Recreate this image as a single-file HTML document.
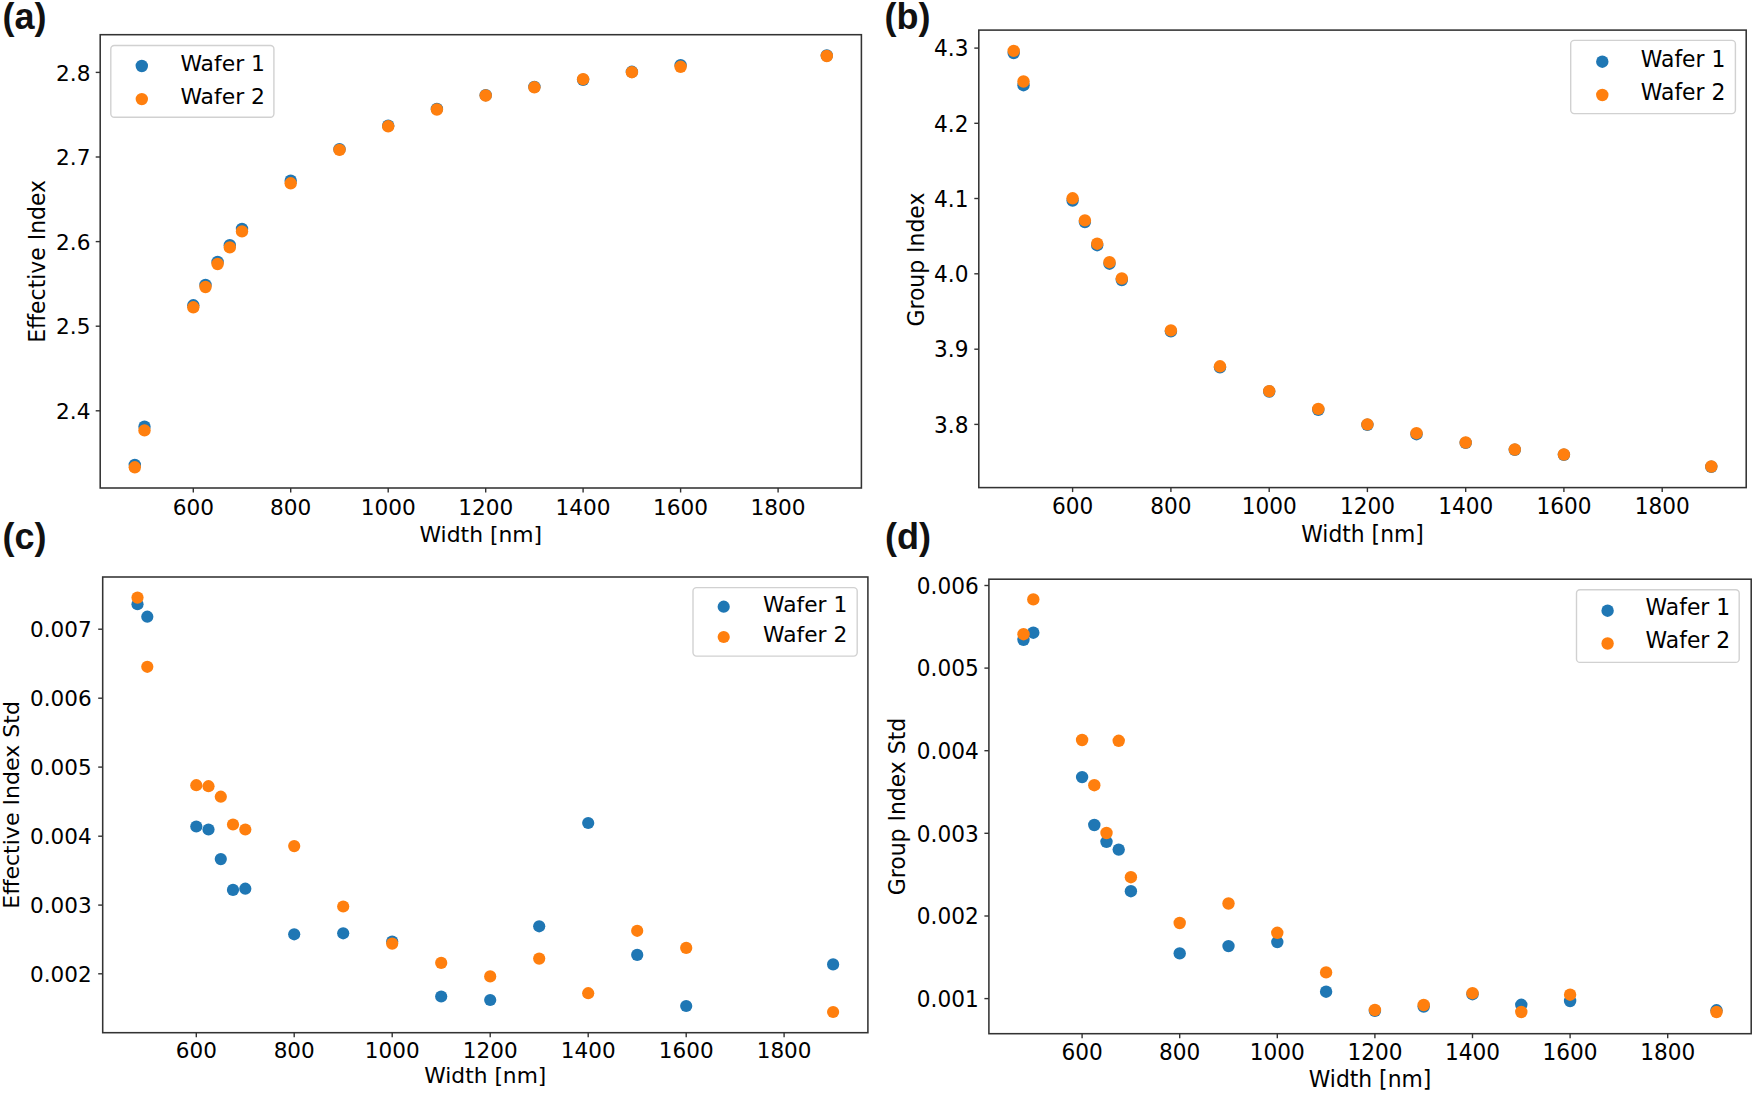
<!DOCTYPE html>
<html lang="en">
<head>
<meta charset="utf-8">
<title>Effective and group index versus waveguide width</title>
<style>
html,body{margin:0;padding:0;background:#fff;}
body{width:1755px;height:1093px;overflow:hidden;}
svg{display:block;}
text{font-family:"DejaVu Sans","Liberation Sans",sans-serif;font-size:22.2px;fill:#000;}
.t{font-size:22.2px;}
.pl{font-family:"Liberation Sans",sans-serif;font-weight:bold;font-size:36px;fill:#111;}
.sp{fill:none;stroke:#333;stroke-width:1.55;}
.tk{stroke:#333;stroke-width:1.4;}
.lg{fill:#fff;fill-opacity:.8;stroke:#ccc;stroke-opacity:.9;stroke-width:1.4;}
.b{fill:#1f77b4;}
.o{fill:#ff7f0e;}
</style>
</head>
<body>
<svg width="1755" height="1093" viewBox="0 0 1755 1093">
<rect width="1755" height="1093" fill="#fff"/>
<g id="panel-a">
<g class="b"><circle cx="134.8" cy="464.9" r="6.2"/><circle cx="144.5" cy="426.7" r="6.2"/><circle cx="193.3" cy="305.3" r="6.2"/><circle cx="205.5" cy="285" r="6.2"/><circle cx="217.6" cy="261.9" r="6.2"/><circle cx="229.8" cy="245.2" r="6.2"/><circle cx="242" cy="229" r="6.2"/><circle cx="290.7" cy="180.7" r="6.2"/><circle cx="339.5" cy="149.2" r="6.2"/><circle cx="388.2" cy="125.6" r="6.2"/><circle cx="436.9" cy="108.9" r="6.2"/><circle cx="485.7" cy="95.2" r="6.2"/><circle cx="534.4" cy="86.9" r="6.2"/><circle cx="583.1" cy="79.8" r="6.2"/><circle cx="631.9" cy="71.8" r="6.2"/><circle cx="680.6" cy="65.1" r="6.2"/><circle cx="826.8" cy="55.5" r="6.2"/></g>
<g class="o"><circle cx="134.8" cy="467.3" r="6.2"/><circle cx="144.5" cy="430.4" r="6.2"/><circle cx="193.3" cy="307.3" r="6.2"/><circle cx="205.5" cy="287" r="6.2"/><circle cx="217.6" cy="264" r="6.2"/><circle cx="229.8" cy="247.4" r="6.2"/><circle cx="242" cy="231.4" r="6.2"/><circle cx="290.7" cy="183.3" r="6.2"/><circle cx="339.5" cy="149.9" r="6.2"/><circle cx="388.2" cy="126.3" r="6.2"/><circle cx="436.9" cy="109.5" r="6.2"/><circle cx="485.7" cy="95.5" r="6.2"/><circle cx="534.4" cy="87.3" r="6.2"/><circle cx="583.1" cy="79.2" r="6.2"/><circle cx="631.9" cy="72.2" r="6.2"/><circle cx="680.6" cy="66.8" r="6.2"/><circle cx="826.8" cy="56" r="6.2"/></g>
<rect class="sp" x="100.2" y="34.7" width="761.2" height="453.3"/>
<line class="tk" x1="193.3" y1="488" x2="193.3" y2="492.5"/><text transform="translate(193.3 514.9) scale(0.975 0.985)" text-anchor="middle" class="t">600</text>
<line class="tk" x1="290.7" y1="488" x2="290.7" y2="492.5"/><text transform="translate(290.7 514.9) scale(0.975 0.985)" text-anchor="middle" class="t">800</text>
<line class="tk" x1="388.2" y1="488" x2="388.2" y2="492.5"/><text transform="translate(388.2 514.9) scale(0.975 0.985)" text-anchor="middle" class="t">1000</text>
<line class="tk" x1="485.7" y1="488" x2="485.7" y2="492.5"/><text transform="translate(485.7 514.9) scale(0.975 0.985)" text-anchor="middle" class="t">1200</text>
<line class="tk" x1="583.1" y1="488" x2="583.1" y2="492.5"/><text transform="translate(583.1 514.9) scale(0.975 0.985)" text-anchor="middle" class="t">1400</text>
<line class="tk" x1="680.6" y1="488" x2="680.6" y2="492.5"/><text transform="translate(680.6 514.9) scale(0.975 0.985)" text-anchor="middle" class="t">1600</text>
<line class="tk" x1="778.1" y1="488" x2="778.1" y2="492.5"/><text transform="translate(778.1 514.9) scale(0.975 0.985)" text-anchor="middle" class="t">1800</text>
<line class="tk" x1="95.7" y1="72.4" x2="100.2" y2="72.4"/><text transform="translate(90.4 80.6) scale(0.975 0.985)" text-anchor="end" class="t">2.8</text>
<line class="tk" x1="95.7" y1="157" x2="100.2" y2="157"/><text transform="translate(90.4 165.2) scale(0.975 0.985)" text-anchor="end" class="t">2.7</text>
<line class="tk" x1="95.7" y1="241.6" x2="100.2" y2="241.6"/><text transform="translate(90.4 249.8) scale(0.975 0.985)" text-anchor="end" class="t">2.6</text>
<line class="tk" x1="95.7" y1="326.2" x2="100.2" y2="326.2"/><text transform="translate(90.4 334.4) scale(0.975 0.985)" text-anchor="end" class="t">2.5</text>
<line class="tk" x1="95.7" y1="410.8" x2="100.2" y2="410.8"/><text transform="translate(90.4 419) scale(0.975 0.985)" text-anchor="end" class="t">2.4</text>
<text transform="translate(480.8 542.2) scale(0.985 0.985)" text-anchor="middle">Width [nm]</text>
<text transform="translate(44.9 261.4) rotate(-90) scale(0.988 1)" text-anchor="middle">Effective Index</text>
<rect class="lg" x="110.8" y="45.5" width="163.1" height="71.7" rx="3.5"/><circle class="b" cx="141.8" cy="66" r="6.2"/><circle class="o" cx="141.8" cy="99.1" r="6.2"/><text transform="translate(180.4 70.9) scale(0.985 0.985)">Wafer 1</text><text transform="translate(180.4 104.1) scale(0.985 0.985)">Wafer 2</text>
</g>
<g id="panel-b">
<g class="b"><circle cx="1013.7" cy="53.1" r="6.2"/><circle cx="1023.5" cy="85.2" r="6.2"/><circle cx="1072.6" cy="200.5" r="6.2"/><circle cx="1084.9" cy="222.1" r="6.2"/><circle cx="1097.2" cy="245.2" r="6.2"/><circle cx="1109.5" cy="263.7" r="6.2"/><circle cx="1121.8" cy="280" r="6.2"/><circle cx="1170.9" cy="331.4" r="6.2"/><circle cx="1220" cy="367.3" r="6.2"/><circle cx="1269.2" cy="391.5" r="6.2"/><circle cx="1318.3" cy="409.9" r="6.2"/><circle cx="1367.4" cy="424.8" r="6.2"/><circle cx="1416.5" cy="434.2" r="6.2"/><circle cx="1465.7" cy="442.9" r="6.2"/><circle cx="1514.8" cy="449.8" r="6.2"/><circle cx="1563.9" cy="454.8" r="6.2"/><circle cx="1711.3" cy="466.8" r="6.2"/></g>
<g class="o"><circle cx="1013.7" cy="50.9" r="6.2"/><circle cx="1023.5" cy="81.5" r="6.2"/><circle cx="1072.6" cy="198.3" r="6.2"/><circle cx="1084.9" cy="220.4" r="6.2"/><circle cx="1097.2" cy="243.7" r="6.2"/><circle cx="1109.5" cy="262.2" r="6.2"/><circle cx="1121.8" cy="278.5" r="6.2"/><circle cx="1170.9" cy="330.4" r="6.2"/><circle cx="1220" cy="366.3" r="6.2"/><circle cx="1269.2" cy="391.1" r="6.2"/><circle cx="1318.3" cy="408.9" r="6.2"/><circle cx="1367.4" cy="424.4" r="6.2"/><circle cx="1416.5" cy="433.2" r="6.2"/><circle cx="1465.7" cy="442.5" r="6.2"/><circle cx="1514.8" cy="449.5" r="6.2"/><circle cx="1563.9" cy="454.5" r="6.2"/><circle cx="1711.3" cy="466.5" r="6.2"/></g>
<rect class="sp" x="978.8" y="30.1" width="767.4" height="457.5"/>
<line class="tk" x1="1072.6" y1="487.6" x2="1072.6" y2="492.1"/><text transform="translate(1072.6 514.4) scale(0.975 1)" text-anchor="middle" class="t">600</text>
<line class="tk" x1="1170.9" y1="487.6" x2="1170.9" y2="492.1"/><text transform="translate(1170.9 514.4) scale(0.975 1)" text-anchor="middle" class="t">800</text>
<line class="tk" x1="1269.2" y1="487.6" x2="1269.2" y2="492.1"/><text transform="translate(1269.2 514.4) scale(0.975 1)" text-anchor="middle" class="t">1000</text>
<line class="tk" x1="1367.4" y1="487.6" x2="1367.4" y2="492.1"/><text transform="translate(1367.4 514.4) scale(0.975 1)" text-anchor="middle" class="t">1200</text>
<line class="tk" x1="1465.7" y1="487.6" x2="1465.7" y2="492.1"/><text transform="translate(1465.7 514.4) scale(0.975 1)" text-anchor="middle" class="t">1400</text>
<line class="tk" x1="1563.9" y1="487.6" x2="1563.9" y2="492.1"/><text transform="translate(1563.9 514.4) scale(0.975 1)" text-anchor="middle" class="t">1600</text>
<line class="tk" x1="1662.2" y1="487.6" x2="1662.2" y2="492.1"/><text transform="translate(1662.2 514.4) scale(0.975 1)" text-anchor="middle" class="t">1800</text>
<line class="tk" x1="974.3" y1="48.1" x2="978.8" y2="48.1"/><text transform="translate(968.5 56.3) scale(0.975 1)" text-anchor="end" class="t">4.3</text>
<line class="tk" x1="974.3" y1="123.3" x2="978.8" y2="123.3"/><text transform="translate(968.5 131.5) scale(0.975 1)" text-anchor="end" class="t">4.2</text>
<line class="tk" x1="974.3" y1="198.5" x2="978.8" y2="198.5"/><text transform="translate(968.5 206.7) scale(0.975 1)" text-anchor="end" class="t">4.1</text>
<line class="tk" x1="974.3" y1="273.8" x2="978.8" y2="273.8"/><text transform="translate(968.5 282) scale(0.975 1)" text-anchor="end" class="t">4.0</text>
<line class="tk" x1="974.3" y1="349.2" x2="978.8" y2="349.2"/><text transform="translate(968.5 357.4) scale(0.975 1)" text-anchor="end" class="t">3.9</text>
<line class="tk" x1="974.3" y1="424.4" x2="978.8" y2="424.4"/><text transform="translate(968.5 432.6) scale(0.975 1)" text-anchor="end" class="t">3.8</text>
<text transform="translate(1362.5 541.9) scale(0.985 1)" text-anchor="middle">Width [nm]</text>
<text transform="translate(923.7 259.6) rotate(-90) scale(0.988 1)" text-anchor="middle">Group Index</text>
<rect class="lg" x="1570.7" y="40.4" width="164.7" height="73.2" rx="3.5"/><circle class="b" cx="1602.3" cy="61.7" r="6.2"/><circle class="o" cx="1602.3" cy="95" r="6.2"/><text transform="translate(1640.8 67) scale(0.985 1)">Wafer 1</text><text transform="translate(1640.8 100.2) scale(0.985 1)">Wafer 2</text>
</g>
<g id="panel-c">
<g class="b"><circle cx="137.5" cy="604.2" r="6.1"/><circle cx="147.3" cy="616.7" r="6.1"/><circle cx="196.3" cy="826.5" r="6.1"/><circle cx="208.5" cy="829.5" r="6.1"/><circle cx="220.8" cy="859.1" r="6.1"/><circle cx="233" cy="889.9" r="6.1"/><circle cx="245.3" cy="888.7" r="6.1"/><circle cx="294.2" cy="934.3" r="6.1"/><circle cx="343.2" cy="933.3" r="6.1"/><circle cx="392.2" cy="941.6" r="6.1"/><circle cx="441.2" cy="996.5" r="6.1"/><circle cx="490.2" cy="1000" r="6.1"/><circle cx="539.2" cy="926.3" r="6.1"/><circle cx="588.2" cy="823" r="6.1"/><circle cx="637.2" cy="954.9" r="6.1"/><circle cx="686.2" cy="1006" r="6.1"/><circle cx="833.1" cy="964.4" r="6.1"/></g>
<g class="o"><circle cx="137.5" cy="597.6" r="6.1"/><circle cx="147.3" cy="666.8" r="6.1"/><circle cx="196.3" cy="785.2" r="6.1"/><circle cx="208.5" cy="786.2" r="6.1"/><circle cx="220.8" cy="796.7" r="6.1"/><circle cx="233" cy="824.5" r="6.1"/><circle cx="245.3" cy="829.5" r="6.1"/><circle cx="294.2" cy="846.1" r="6.1"/><circle cx="343.2" cy="906.5" r="6.1"/><circle cx="392.2" cy="943.6" r="6.1"/><circle cx="441.2" cy="962.9" r="6.1"/><circle cx="490.2" cy="976.4" r="6.1"/><circle cx="539.2" cy="958.6" r="6.1"/><circle cx="588.2" cy="993.2" r="6.1"/><circle cx="637.2" cy="930.8" r="6.1"/><circle cx="686.2" cy="947.9" r="6.1"/><circle cx="833.1" cy="1012" r="6.1"/></g>
<rect class="sp" x="102.7" y="577" width="765.2" height="455.7"/>
<line class="tk" x1="196.3" y1="1032.7" x2="196.3" y2="1037.2"/><text transform="translate(196.3 1058) scale(0.97 0.925)" text-anchor="middle" class="t">600</text>
<line class="tk" x1="294.2" y1="1032.7" x2="294.2" y2="1037.2"/><text transform="translate(294.2 1058) scale(0.97 0.925)" text-anchor="middle" class="t">800</text>
<line class="tk" x1="392.2" y1="1032.7" x2="392.2" y2="1037.2"/><text transform="translate(392.2 1058) scale(0.97 0.925)" text-anchor="middle" class="t">1000</text>
<line class="tk" x1="490.2" y1="1032.7" x2="490.2" y2="1037.2"/><text transform="translate(490.2 1058) scale(0.97 0.925)" text-anchor="middle" class="t">1200</text>
<line class="tk" x1="588.2" y1="1032.7" x2="588.2" y2="1037.2"/><text transform="translate(588.2 1058) scale(0.97 0.925)" text-anchor="middle" class="t">1400</text>
<line class="tk" x1="686.2" y1="1032.7" x2="686.2" y2="1037.2"/><text transform="translate(686.2 1058) scale(0.97 0.925)" text-anchor="middle" class="t">1600</text>
<line class="tk" x1="784.1" y1="1032.7" x2="784.1" y2="1037.2"/><text transform="translate(784.1 1058) scale(0.97 0.925)" text-anchor="middle" class="t">1800</text>
<line class="tk" x1="98.2" y1="629.2" x2="102.7" y2="629.2"/><text transform="translate(91.7 637.4) scale(0.97 0.925)" text-anchor="end" class="t">0.007</text>
<line class="tk" x1="98.2" y1="698.2" x2="102.7" y2="698.2"/><text transform="translate(91.7 706.4) scale(0.97 0.925)" text-anchor="end" class="t">0.006</text>
<line class="tk" x1="98.2" y1="767.1" x2="102.7" y2="767.1"/><text transform="translate(91.7 775.3) scale(0.97 0.925)" text-anchor="end" class="t">0.005</text>
<line class="tk" x1="98.2" y1="836.2" x2="102.7" y2="836.2"/><text transform="translate(91.7 844.4) scale(0.97 0.925)" text-anchor="end" class="t">0.004</text>
<line class="tk" x1="98.2" y1="905.1" x2="102.7" y2="905.1"/><text transform="translate(91.7 913.3) scale(0.97 0.925)" text-anchor="end" class="t">0.003</text>
<line class="tk" x1="98.2" y1="973.8" x2="102.7" y2="973.8"/><text transform="translate(91.7 982) scale(0.97 0.925)" text-anchor="end" class="t">0.002</text>
<text transform="translate(485.3 1082.9) scale(0.98 0.925)" text-anchor="middle">Width [nm]</text>
<text transform="translate(19.1 804.9) rotate(-90) scale(0.995 0.93)" text-anchor="middle">Effective Index Std</text>
<rect class="lg" x="693" y="587.6" width="164.2" height="68.5" rx="3.5"/><circle class="b" cx="723.7" cy="606.7" r="6.1"/><circle class="o" cx="723.7" cy="637" r="6.1"/><text transform="translate(763.1 612) scale(0.98 0.925)">Wafer 1</text><text transform="translate(763.1 642.2) scale(0.98 0.925)">Wafer 2</text>
</g>
<g id="panel-d">
<g class="b"><circle cx="1023.5" cy="639.8" r="6.2"/><circle cx="1033.3" cy="632.7" r="6.2"/><circle cx="1082.1" cy="777.1" r="6.2"/><circle cx="1094.3" cy="825" r="6.2"/><circle cx="1106.5" cy="841.8" r="6.2"/><circle cx="1118.7" cy="849.6" r="6.2"/><circle cx="1130.9" cy="891.2" r="6.2"/><circle cx="1179.7" cy="953.4" r="6.2"/><circle cx="1228.5" cy="946.1" r="6.2"/><circle cx="1277.3" cy="942.1" r="6.2"/><circle cx="1326.1" cy="991.7" r="6.2"/><circle cx="1374.9" cy="1010.9" r="6.2"/><circle cx="1423.7" cy="1006.5" r="6.2"/><circle cx="1472.5" cy="994.2" r="6.2"/><circle cx="1521.3" cy="1004.8" r="6.2"/><circle cx="1570.1" cy="1001" r="6.2"/><circle cx="1716.5" cy="1010.3" r="6.2"/></g>
<g class="o"><circle cx="1023.5" cy="634.2" r="6.2"/><circle cx="1033.3" cy="599.4" r="6.2"/><circle cx="1082.1" cy="740" r="6.2"/><circle cx="1094.3" cy="785.2" r="6.2"/><circle cx="1106.5" cy="833" r="6.2"/><circle cx="1118.7" cy="740.8" r="6.2"/><circle cx="1130.9" cy="877.2" r="6.2"/><circle cx="1179.7" cy="923" r="6.2"/><circle cx="1228.5" cy="903.5" r="6.2"/><circle cx="1277.3" cy="932.8" r="6.2"/><circle cx="1326.1" cy="972.4" r="6.2"/><circle cx="1374.9" cy="1010" r="6.2"/><circle cx="1423.7" cy="1005" r="6.2"/><circle cx="1472.5" cy="993.2" r="6.2"/><circle cx="1521.3" cy="1012" r="6.2"/><circle cx="1570.1" cy="994.7" r="6.2"/><circle cx="1716.5" cy="1012" r="6.2"/></g>
<rect class="sp" x="988.9" y="579.2" width="762.3" height="454.5"/>
<line class="tk" x1="1082.1" y1="1033.7" x2="1082.1" y2="1038.2"/><text transform="translate(1082.1 1059.9) scale(0.975 1)" text-anchor="middle" class="t">600</text>
<line class="tk" x1="1179.7" y1="1033.7" x2="1179.7" y2="1038.2"/><text transform="translate(1179.7 1059.9) scale(0.975 1)" text-anchor="middle" class="t">800</text>
<line class="tk" x1="1277.3" y1="1033.7" x2="1277.3" y2="1038.2"/><text transform="translate(1277.3 1059.9) scale(0.975 1)" text-anchor="middle" class="t">1000</text>
<line class="tk" x1="1374.9" y1="1033.7" x2="1374.9" y2="1038.2"/><text transform="translate(1374.9 1059.9) scale(0.975 1)" text-anchor="middle" class="t">1200</text>
<line class="tk" x1="1472.5" y1="1033.7" x2="1472.5" y2="1038.2"/><text transform="translate(1472.5 1059.9) scale(0.975 1)" text-anchor="middle" class="t">1400</text>
<line class="tk" x1="1570.1" y1="1033.7" x2="1570.1" y2="1038.2"/><text transform="translate(1570.1 1059.9) scale(0.975 1)" text-anchor="middle" class="t">1600</text>
<line class="tk" x1="1667.7" y1="1033.7" x2="1667.7" y2="1038.2"/><text transform="translate(1667.7 1059.9) scale(0.975 1)" text-anchor="middle" class="t">1800</text>
<line class="tk" x1="984.4" y1="585.5" x2="988.9" y2="585.5"/><text transform="translate(978.7 593.7) scale(0.975 1)" text-anchor="end" class="t">0.006</text>
<line class="tk" x1="984.4" y1="668.1" x2="988.9" y2="668.1"/><text transform="translate(978.7 676.3) scale(0.975 1)" text-anchor="end" class="t">0.005</text>
<line class="tk" x1="984.4" y1="750.7" x2="988.9" y2="750.7"/><text transform="translate(978.7 758.9) scale(0.975 1)" text-anchor="end" class="t">0.004</text>
<line class="tk" x1="984.4" y1="833.3" x2="988.9" y2="833.3"/><text transform="translate(978.7 841.5) scale(0.975 1)" text-anchor="end" class="t">0.003</text>
<line class="tk" x1="984.4" y1="916" x2="988.9" y2="916"/><text transform="translate(978.7 924.2) scale(0.975 1)" text-anchor="end" class="t">0.002</text>
<line class="tk" x1="984.4" y1="998.6" x2="988.9" y2="998.6"/><text transform="translate(978.7 1006.8) scale(0.975 1)" text-anchor="end" class="t">0.001</text>
<text transform="translate(1370 1086.8) scale(0.985 1)" text-anchor="middle">Width [nm]</text>
<text transform="translate(905.4 806.5) rotate(-90) scale(0.988 1)" text-anchor="middle">Group Index Std</text>
<rect class="lg" x="1576.5" y="589.7" width="162.7" height="72.7" rx="3.5"/><circle class="b" cx="1607.6" cy="610.7" r="6.2"/><circle class="o" cx="1607.6" cy="643.5" r="6.2"/><text transform="translate(1645.6 615.2) scale(0.985 1)">Wafer 1</text><text transform="translate(1645.6 648.2) scale(0.985 1)">Wafer 2</text>
</g>
<text class="pl" x="2.5" y="29.1">(a)</text>
<text class="pl" x="884.5" y="29.1">(b)</text>
<text class="pl" x="2.5" y="548.9">(c)</text>
<text class="pl" x="885" y="548.9">(d)</text>
</svg>
</body>
</html>
